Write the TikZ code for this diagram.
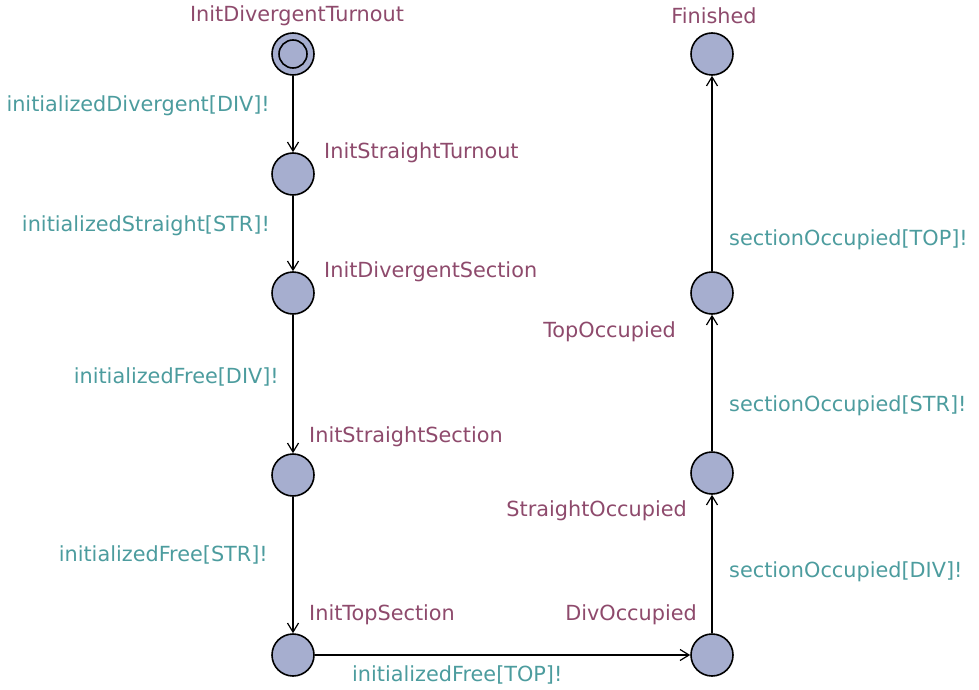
\documentclass[tikz,border=0pt]{standalone}
\usepackage{fontspec}
\setmainfont{DejaVu Sans}
\usetikzlibrary{arrows.meta}
\definecolor{locfill}{HTML}{A6AECF}
\definecolor{locname}{HTML}{8E4A6C}
\definecolor{synclab}{HTML}{4C9C9E}
\begin{document}
\begin{tikzpicture}[x=1pt,y=-1pt,
  loc/.style={circle,draw=black,line width=1.6pt,fill=locfill,minimum size=42pt,inner sep=0pt},
  lname/.style={text=locname,font=\fontsize{20.8}{25}\selectfont,inner sep=0pt},
  slabel/.style={text=synclab,font=\fontsize{20.8}{25}\selectfont,inner sep=0pt},
  edge/.style={draw=black,line width=1.4pt,-{Straight Barb[length=9pt,width=11pt,line width=1.2pt]}}]
\useasboundingbox (0,0) rectangle (979,690);

% locations
\node[loc] (idt) at (293,54) {};
\draw[line width=1.6pt] (idt.center) circle[radius=14];
\node[loc] (ist) at (293,174) {};
\node[loc] (ids) at (293,293) {};
\node[loc] (iss) at (293,475) {};
\node[loc] (its) at (293,655) {};
\node[loc] (div) at (712,655) {};
\node[loc] (str) at (712,473) {};
\node[loc] (top) at (712,293) {};
\node[loc] (fin) at (712,54) {};

% location names
\node[lname] (n1) at (297,16) {InitDivergentTurnout};
\node[lname,anchor=west] (n2) at (324,153) {InitStraightTurnout};
\node[lname,anchor=west] (n3) at (324,272) {InitDivergentSection};
\node[lname,anchor=west] (n4) at (309,437) {InitStraightSection};
\node[lname,anchor=west] (n5) at (309,615) {InitTopSection};
\node[lname,anchor=east] (n6) at (697,615) {DivOccupied};
\node[lname,anchor=east] (n7) at (687,511) {StraightOccupied};
\node[lname,anchor=east] (n8) at (676,332) {TopOccupied};
\node[lname] (n9) at (714,16) {Finished};

% transitions
\draw[edge] (idt) -- (ist);
\draw[edge] (ist) -- (ids);
\draw[edge] (ids) -- (iss);
\draw[edge] (iss) -- (its);
\draw[edge] (its) -- (div);
\draw[edge] (div) -- (str);
\draw[edge] (str) -- (top);
\draw[edge] (top) -- (fin);

% synchronisation labels
\node[slabel,anchor=east] (s1) at (270,106) {initializedDivergent[DIV]!};
\node[slabel,anchor=east] (s2) at (270,226) {initializedStraight[STR]!};
\node[slabel,anchor=east] (s3) at (279,377) {initializedFree[DIV]!};
\node[slabel,anchor=east] (s4) at (268,555) {initializedFree[STR]!};
\node[slabel,anchor=west] (s5) at (352,675) {initializedFree[TOP]!};
\node[slabel,anchor=west] (s6) at (729,572) {sectionOccupied[DIV]!};
\node[slabel,anchor=west] (s7) at (729,406) {sectionOccupied[STR]!};
\node[slabel,anchor=west] (s8) at (729,240) {sectionOccupied[TOP]!};
\end{tikzpicture}
\end{document}
